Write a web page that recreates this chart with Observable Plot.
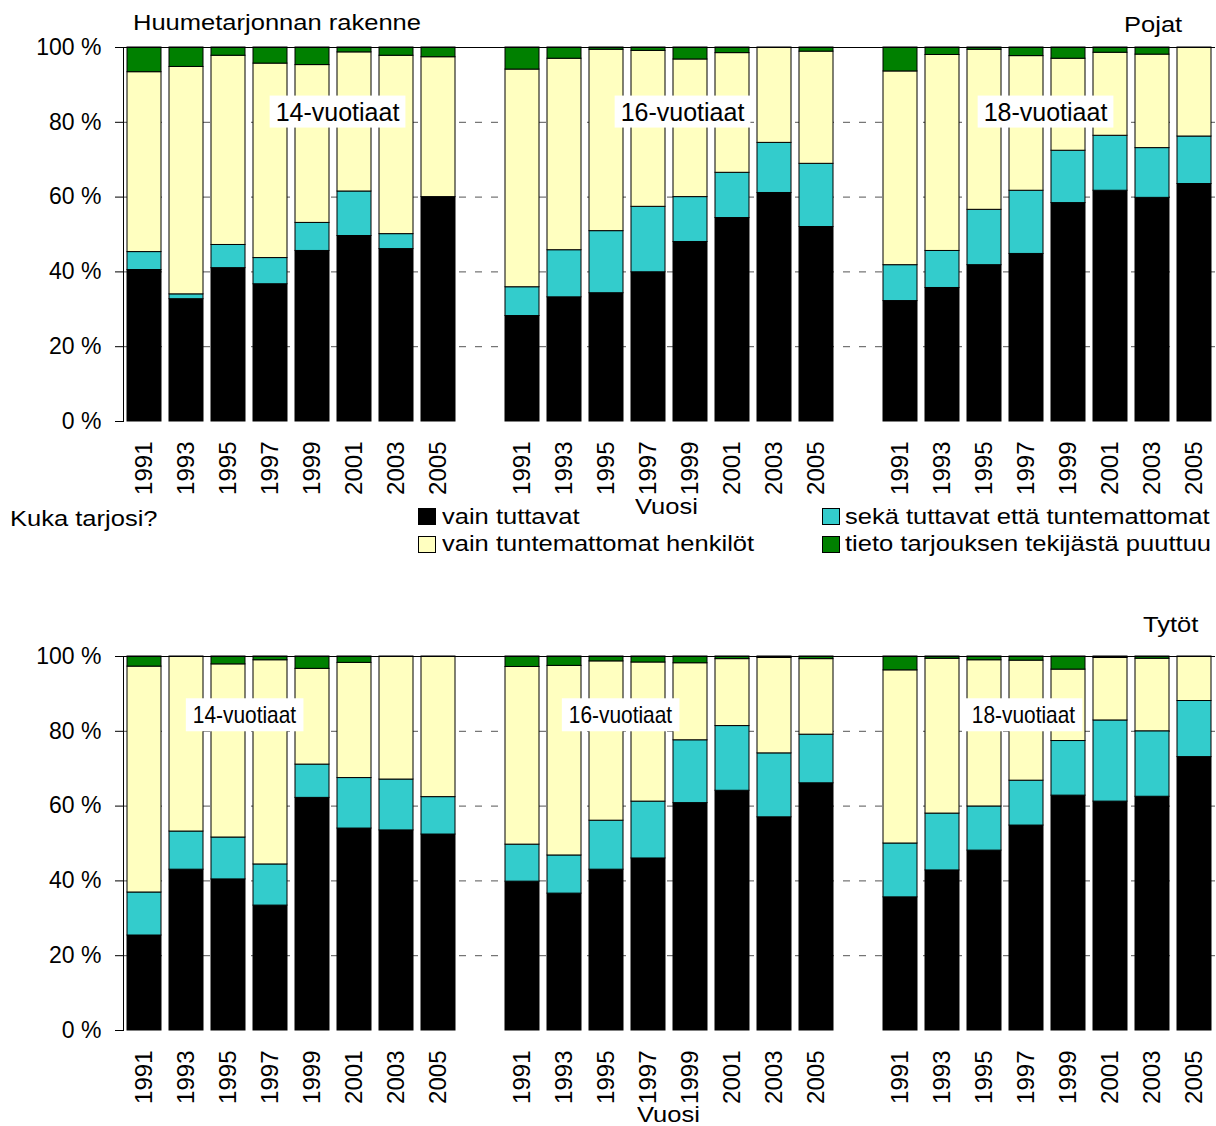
<!DOCTYPE html>
<html><head><meta charset="utf-8">
<script src="https://cdn.jsdelivr.net/npm/d3@7"></script>
<script src="https://cdn.jsdelivr.net/npm/@observablehq/plot@0.6"></script>
<style>
body{margin:0;background:#fff;font-family:"Liberation Sans",Arial,sans-serif;}
#page{position:relative;width:1216px;height:1126px;overflow:hidden;background:#fff}
.t{position:absolute;font-size:22px;line-height:1;white-space:nowrap;color:#000;transform-origin:0 0;transform:scaleX(1.16)}
.sw{position:absolute;width:18px;height:17px;border:1px solid #000;box-sizing:border-box}
.plot{position:absolute;left:0}
</style></head>
<body><div id="page"></div>
<script>
const ages = ["14-vuotiaat", "16-vuotiaat", "18-vuotiaat"];
const years = ["1991", "1993", "1995", "1997", "1999", "2001", "2003", "2005"];
const categories = ["vain tuttavat", "sekä tuttavat että tuntemattomat", "vain tuntemattomat henkilöt", "tieto tarjouksen tekijästä puuttuu"];
const colors = ["#000000", "#33CCCC", "#FFFFC0", "#008000"];
const yTicks = [0, 20, 40, 60, 80, 100];

// Pojat (order: 14-, 16-, 18-vuotiaat; years 1991..2005)
const pojatTuttavat = [40.5,32.7,41.0,36.7,45.6,49.6,46.1,60.0, 28.2,33.2,34.3,39.9,48.0,54.4,61.1,52.0, 32.2,35.7,41.8,44.8,58.4,61.7,59.8,63.5];
const pojatMolemmat = [4.8,1.3,6.2,7.0,7.5,11.9,4.0,0.0, 7.7,12.6,16.6,17.5,12.0,12.1,13.4,16.9, 9.6,9.9,14.8,16.9,14.0,14.7,13.3,12.7];
const pojatTuntemattomat = [48.1,60.8,50.6,52.0,42.2,37.2,47.7,37.4, 58.2,51.2,48.5,41.7,36.8,32.0,25.5,30.0, 51.8,52.4,42.8,36.0,24.6,22.2,25.0,23.8];
const pojatPuuttuu = [6.6,5.2,2.2,4.3,4.7,1.3,2.2,2.6, 5.9,3.0,0.6,0.9,3.2,1.5,0.0,1.1, 6.4,2.0,0.6,2.3,3.0,1.4,1.9,0.0];

// Tytöt
const tytotTuttavat = [25.4,43.0,40.4,33.4,62.2,54.0,53.5,52.4, 39.8,36.6,43.0,46.0,60.8,64.1,57.0,66.1, 35.6,42.8,48.1,54.8,62.8,61.2,62.5,73.1];
const tytotMolemmat = [11.5,10.2,11.2,11.0,8.9,13.5,13.6,10.0, 9.9,10.2,13.1,15.2,16.8,17.3,17.1,13.0, 14.4,15.2,11.8,12.0,14.6,21.7,17.5,15.0];
const tytotTuntemattomat = [60.4,46.8,46.3,54.6,25.6,30.8,32.9,37.6, 47.5,50.7,42.6,37.2,20.6,17.9,25.5,20.2, 46.3,41.4,39.1,32.1,19.1,16.7,19.4,11.9];
const tytotPuuttuu = [2.7,0.0,2.1,1.0,3.3,1.7,0.0,0.0, 2.8,2.5,1.3,1.6,1.8,0.7,0.4,0.7, 3.7,0.6,1.0,1.1,3.5,0.4,0.6,0.0];

// age-group label placement (slot + pixel nudge) and height in %
const pojatLabels = [
  {age: "14-vuotiaat", year: "1999", dx: 25, y: 82.6},
  {age: "16-vuotiaat", year: "1999", dx: -8, y: 82.6},
  {age: "18-vuotiaat", year: "1997", dx: 19, y: 82.6}
];
const tytotLabels = [
  {age: "14-vuotiaat", year: "1995", dx: 16, y: 84.2},
  {age: "16-vuotiaat", year: "1995", dx: 14, y: 84.2},
  {age: "18-vuotiaat", year: "1997", dx: -3, y: 84.2}
];

const keyOf = (a, y) => a + "|" + y;
const xDomain = ages.flatMap((a, i) => [...(i ? ["gap" + i] : []), ...years.map(y => keyOf(a, y))]);
const xTicks = xDomain.filter(k => !k.startsWith("gap"));

function tidy(series) {
  const rows = [];
  ages.forEach((a, ai) => years.forEach((y, yi) => {
    const i = ai * years.length + yi;
    series.forEach((s, ci) => rows.push({key: keyOf(a, y), cat: categories[ci], value: s[i]}));
  }));
  return rows;
}

function makePlot(series, labels, labelSize) {
  const data = tidy(series);
  return Plot.plot({
    width: 1216,
    height: 496,
    marginTop: 48,
    marginBottom: 74,
    marginLeft: 123,
    marginRight: 1,
    style: {fontFamily: "Liberation Sans, Arial, sans-serif", background: "#fff"},
    x: {type: "band", domain: xDomain, paddingInner: 0.18, paddingOuter: 0.09},
    y: {domain: [0, 100]},
    color: {domain: categories, range: colors},
    marks: [
      Plot.ruleY([20, 40, 60, 80], {stroke: "#555", strokeWidth: 1, strokeDasharray: "7,9"}),
      Plot.barY(data, {x: "key", y: "value", fill: "cat", stroke: "#000", strokeWidth: 1, order: categories}),
      Plot.ruleY([100], {stroke: "#000", strokeWidth: 1}),
      Plot.frame({anchor: "left", stroke: "#000", strokeWidth: 1}),
      Plot.axisY({ticks: yTicks, tickFormat: d => d + " %", tickSize: 8, tickPadding: 14, fontSize: 23, label: null, stroke: "#000"}),
      Plot.axisX({ticks: xTicks, tickFormat: k => k.split("|")[1], tickRotate: -90, tickSize: 0, tickPadding: 20, fontSize: 24, label: null}),
      ...labels.map(l => Plot.text([l], {
        x: d => keyOf(d.age, d.year), y: "y", text: "age", dx: l.dx,
        fontSize: labelSize, fill: "#000"
      }))
    ]
  });
}

const page = document.getElementById("page");

function addText(txt, css) {
  const d = document.createElement("div");
  d.className = "t";
  d.textContent = txt;
  Object.assign(d.style, css);
  page.appendChild(d);
  return d;
}
function addSwatch(color, left, topPx) {
  const s = document.createElement("div");
  s.className = "sw";
  s.style.left = left + "px";
  s.style.top = topPx + "px";
  s.style.background = color;
  page.appendChild(s);
}
// white boxes behind the age-group labels (optionally horizontally condensed)
function boxLabels(svg, padX, padY, sx) {
  svg.querySelectorAll('g[aria-label="text"] text').forEach(t => {
    const b = t.getBBox();
    const tr = (t.getAttribute("transform") || "") + (sx !== 1 ? ` scale(${sx},1)` : "");
    if (tr) t.setAttribute("transform", tr);
    const r = document.createElementNS("http://www.w3.org/2000/svg", "rect");
    r.setAttribute("x", b.x - padX / sx);
    r.setAttribute("y", b.y - padY);
    r.setAttribute("width", b.width + 2 * padX / sx);
    r.setAttribute("height", b.height + 2 * padY);
    r.setAttribute("fill", "#fff");
    if (tr) r.setAttribute("transform", tr);
    t.parentNode.insertBefore(r, t);
  });
}

const topPlot = makePlot([pojatTuttavat, pojatMolemmat, pojatTuntemattomat, pojatPuuttuu], pojatLabels, 25);
topPlot.classList.add("plot");
topPlot.style.top = "-1px";
page.appendChild(topPlot);
boxLabels(topPlot, 6, 2, 1);

const bottomPlot = makePlot([tytotTuttavat, tytotMolemmat, tytotTuntemattomat, tytotPuuttuu], tytotLabels, 24);
bottomPlot.classList.add("plot");
bottomPlot.style.top = "608px";
page.appendChild(bottomPlot);
boxLabels(bottomPlot, 7, 3, 0.87);

addText("Huumetarjonnan rakenne", {left: "133px", top: "12px"});
addText("Pojat", {left: "1124px", top: "14px"});
addText("Vuosi", {left: "635px", top: "496px"});
addText("Kuka tarjosi?", {left: "10px", top: "508px"});
addSwatch(colors[0], 418, 508);
addText(categories[0], {left: "442px", top: "506px"});
addSwatch(colors[1], 822, 508);
addText(categories[1], {left: "845px", top: "506px"});
addSwatch(colors[2], 418, 536);
addText(categories[2], {left: "442px", top: "533px"});
addSwatch(colors[3], 822, 536);
addText(categories[3], {left: "845px", top: "533px"});
addText("Tytöt", {left: "1143px", top: "614px"});
addText("Vuosi", {left: "637px", top: "1104px"});
</script>
</body></html>
